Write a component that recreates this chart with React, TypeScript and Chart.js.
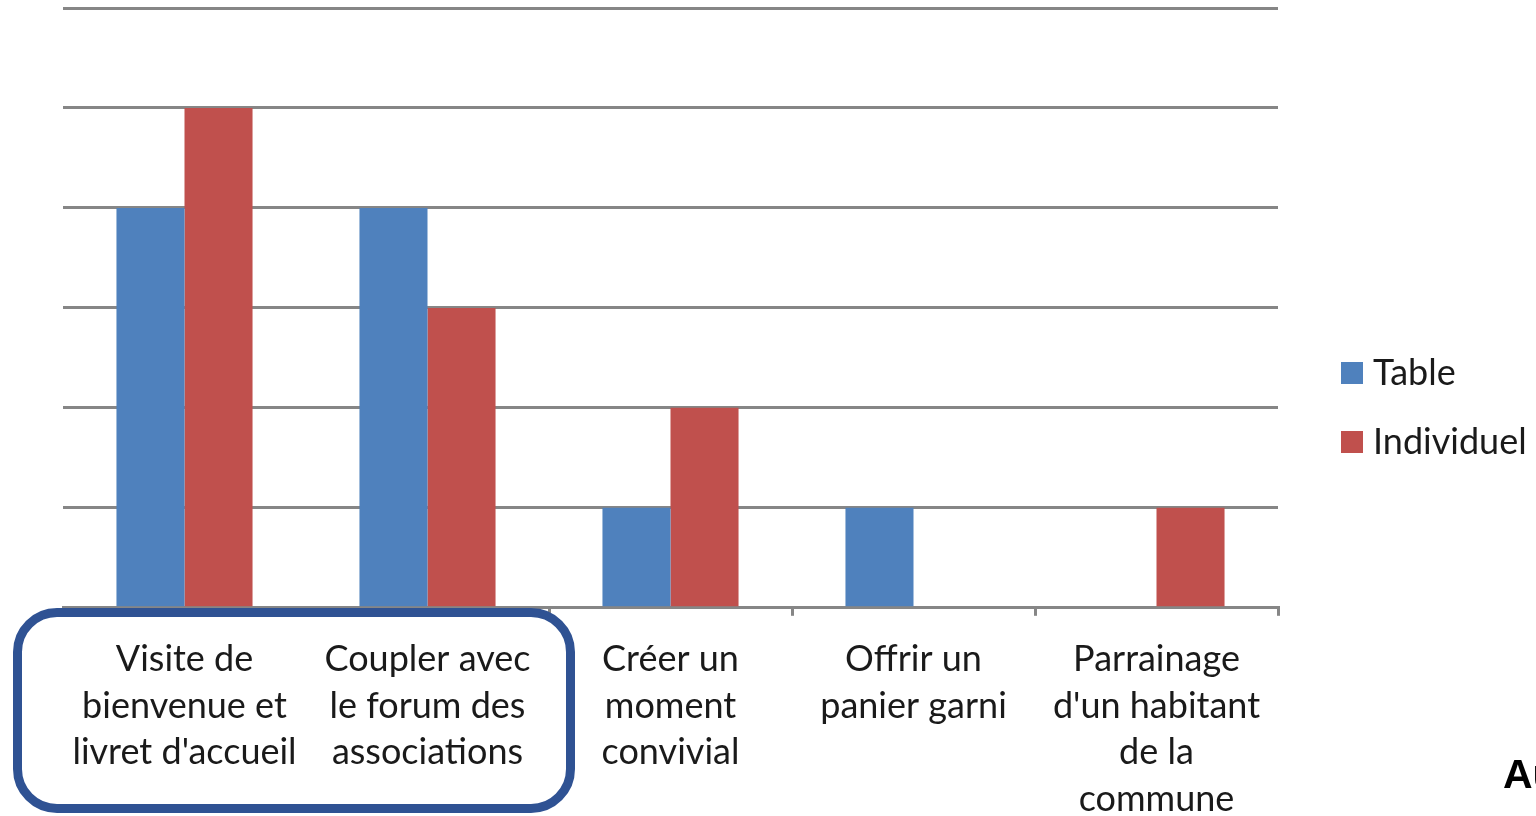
import React, { useEffect, useRef } from "react";
import { Chart, registerables } from "chart.js";

Chart.register(...registerables);

const categories: string[][] = [
  ["Visite de", "bienvenue et", "livret d'accueil"],
  ["Coupler avec", "le forum des", "associations"],
  ["Créer un", "moment", "convivial"],
  ["Offrir un", "panier garni"],
  ["Parrainage", "d'un habitant", "de la", "commune"],
];
const tableValues = [4, 4, 1, 1, 0];
const individuelValues = [5, 3, 2, 0, 1];
const seriesNames = ["Table", "Individuel"];
const seriesColors = ["#4F81BD", "#C0504D"];
const yMax = 6;

const FONT = "Lato, 'Open Sans', sans-serif";

const legendPlugin = {
  id: "sideLegend",
  afterDraw(chart: any) {
    const ctx = chart.ctx;
    ctx.save();
    chart.data.datasets.forEach((ds: any, i: number) => {
      const cy = 373 + i * 69;
      ctx.fillStyle = ds.backgroundColor;
      ctx.fillRect(1341, cy - 11, 22, 22);
      ctx.fillStyle = "#1a1a1a";
      ctx.font = `36px ${FONT}`;
      ctx.textBaseline = "middle";
      ctx.textAlign = "left";
      ctx.fillText(ds.label, 1373, cy);
    });
    ctx.restore();
  },
};

export default function App() {
  const ref = useRef<HTMLCanvasElement | null>(null);
  useEffect(() => {
    if (!ref.current) return;
    const chart = new Chart(ref.current, {
      type: "bar",
      data: {
        labels: categories,
        datasets: [
          {
            label: seriesNames[0],
            data: tableValues,
            backgroundColor: seriesColors[0],
            categoryPercentage: 0.56,
            barPercentage: 1,
          },
          {
            label: seriesNames[1],
            data: individuelValues,
            backgroundColor: seriesColors[1],
            categoryPercentage: 0.56,
            barPercentage: 1,
          },
        ],
      },
      options: {
        responsive: false,
        animation: false,
        layout: { padding: { left: 63, right: 258, top: 8, bottom: 7 } },
        plugins: { legend: { display: false }, tooltip: { enabled: false } },
        scales: {
          x: {
            grid: {
              offset: true,
              drawOnChartArea: false,
              drawTicks: true,
              tickLength: 8,
              color: "#868686",
              lineWidth: 3,
            },
            border: { display: true, color: "#868686", width: 3 },
            ticks: {
              color: "#1a1a1a",
              font: { family: FONT, size: 36, lineHeight: 1.3 },
              padding: 20,
              maxRotation: 0,
              autoSkip: false,
            },
          },
          y: {
            min: 0,
            max: yMax,
            ticks: { display: false, stepSize: 1 },
            grid: { color: "#868686", lineWidth: 3, drawTicks: false },
            border: { display: false },
          },
        },
      },
      plugins: [legendPlugin],
    });
    return () => chart.destroy();
  }, []);

  return (
    <div
      style={{
        position: "fixed",
        left: 0,
        top: 0,
        width: 1536,
        height: 816,
        overflow: "hidden",
        background: "#fff",
      }}
    >
      <canvas ref={ref} width={1536} height={850} style={{ display: "block" }} />
      <div
        style={{
          position: "absolute",
          left: 13,
          top: 608,
          width: 562,
          height: 205,
          boxSizing: "border-box",
          border: "9px solid #2F5293",
          borderRadius: 44,
        }}
      />
      <div
        style={{
          position: "absolute",
          left: 1503,
          top: 750,
          fontFamily: "'Liberation Sans', Arial, sans-serif",
          fontWeight: "bold",
          fontSize: 41,
          lineHeight: "48px",
          color: "#000",
          whiteSpace: "nowrap",
        }}
      >
        Au
      </div>
    </div>
  );
}
